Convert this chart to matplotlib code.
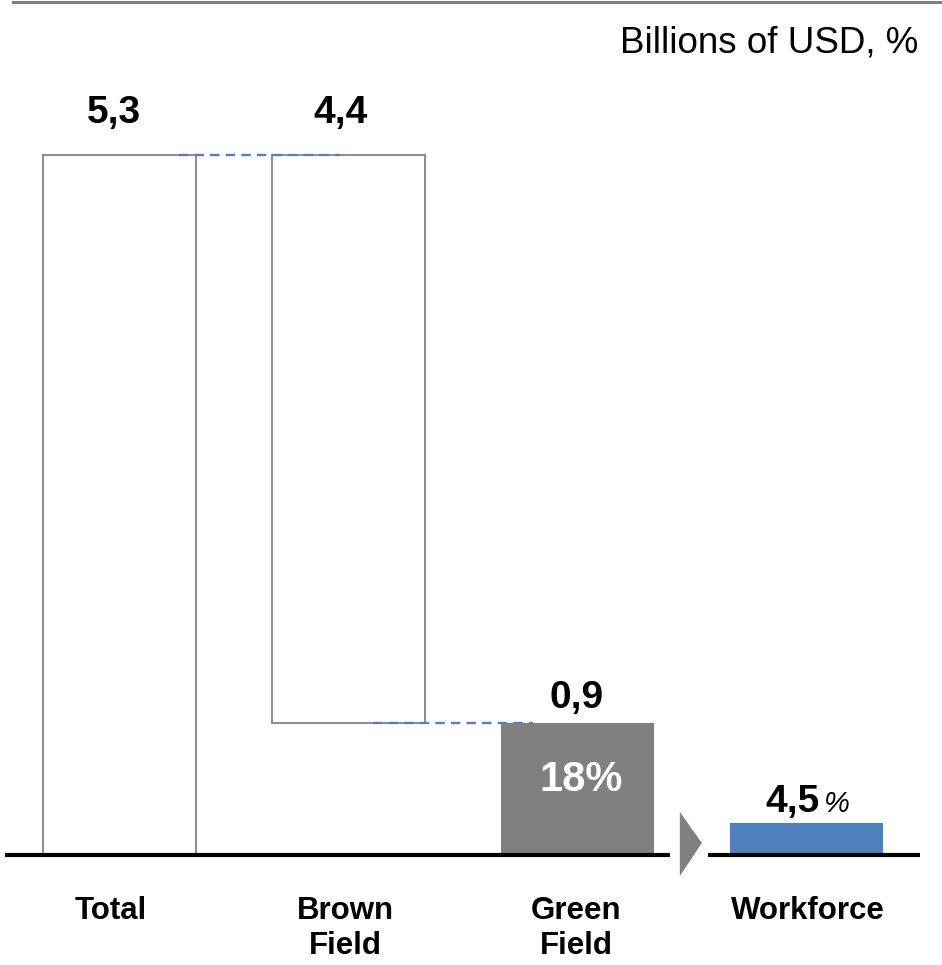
import matplotlib
matplotlib.use("Agg")
import matplotlib.pyplot as plt
from matplotlib.patches import Polygon
from matplotlib.lines import Line2D

plt.rcParams['font.family'] = ['Liberation Sans', 'DejaVu Sans']

# ---- data ----
categories = ["Total", "Brown\nField", "Green\nField", "Workforce"]
value_labels = ["5,3", "4,4", "0,9", "4,5"]
bar_bottoms = [0.0, 1.0, 0.0, 0.0]
bar_heights = [5.3, 4.3, 1.0, 0.24]
green_share_label = "18%"
unit_label = "Billions of USD, %"

# ---- styles ----
face_colors = ["white", "white", "#808080", "#4F81BD"]
edge_colors = ["#8C8C8C", "#8C8C8C", "#808080", "#4F81BD"]
blue = "#4F81BD"

fig = plt.figure(figsize=(9.42, 9.65), dpi=100)
ax = fig.add_axes([0, 0, 1, 1])
ax.set_xlim(-0.5218, 3.5917)
ax.set_ylim(-0.8328, 6.4734)
ax.axis('off')

x = list(range(len(categories)))
width = 0.668
for i in x:
    ax.bar(i, bar_heights[i], width=width, bottom=bar_bottoms[i],
           color=face_colors[i], edgecolor=edge_colors[i],
           linewidth=1.4 if i < 2 else 0, zorder=2)

# dashed connectors
ax.plot([0.26, 0.963], [bar_bottoms[0] + bar_heights[0]] * 2, color=blue,
        lw=1.7, ls=(0, (4, 2.6)), zorder=3)
ax.plot([1.107, 1.806], [bar_bottoms[1]] * 2, color=blue,
        lw=1.7, ls=(0, (4, 2.6)), zorder=3)

# baseline (two segments) and arrow triangle
ax.plot([-0.5, 2.404], [0, 0], color="black", lw=3, solid_capstyle='butt', zorder=4)
ax.plot([2.570, 3.496], [0, 0], color="black", lw=3, solid_capstyle='butt', zorder=4)
ax.add_patch(Polygon([[2.447, 0.326], [2.543, 0.091], [2.447, -0.159]],
                     closed=True, facecolor="#808080", edgecolor="none", zorder=4))

# value labels
tops = [b + h for b, h in zip(bar_bottoms, bar_heights)]
label_offsets = [0.24, 0.24, 0.113, 0.0]
label_dx = [-0.024, -0.035, -0.006, 0]
for i in range(3):
    ax.text(i + label_dx[i], tops[i] + label_offsets[i], value_labels[i],
            ha='center', va='baseline', fontsize=28, fontweight='bold', zorder=5)
ax.text(3.059, 0.328, value_labels[3], ha='right', va='baseline',
        fontsize=28, fontweight='bold', zorder=5)
ax.text(3.074, 0.328, "%", ha='left', va='baseline', fontsize=21,
        fontstyle='italic', zorder=5)

# share label inside green bar
ax.text(2.015, tops[2] * 0.57, green_share_label, ha='center', va='center',
        fontsize=30, fontweight='bold', color='white', zorder=5)

# category labels (each line placed on its own baseline)
cat_dx = [-0.037, -0.013, -0.007, 0.004]
line_y = [-0.4846, -0.7533]
for i, c in enumerate(categories):
    for j, line in enumerate(c.split("\n")):
        ax.text(i + cat_dx[i], line_y[j], line, ha='center', va='baseline',
                fontsize=22.5, fontweight='bold')

# unit label and top rule
fig.text(918 / 942, 1 - 52.7 / 965, unit_label, ha='right', va='baseline',
         fontsize=26.5)
fig.add_artist(Line2D([13 / 942, 1], [1 - 1.5 / 965] * 2, color="#808080",
                      lw=2.2, transform=fig.transFigure))

fig.savefig("out.png", dpi=100)
